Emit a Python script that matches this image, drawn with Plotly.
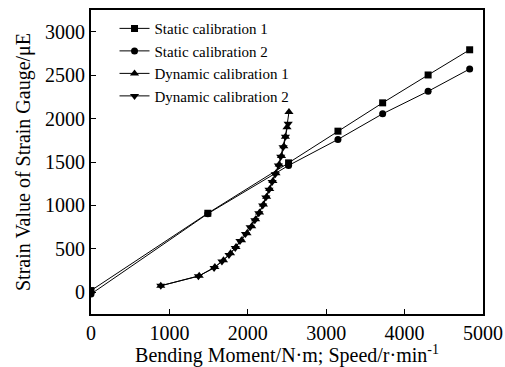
import plotly.graph_objects as go

# Static calibration (bending moment, N·m)
static_x = [0, 1490, 2520, 3150, 3720, 4300, 4830]
static1_y = [20, 910, 1490, 1855, 2181, 2502, 2792]
static2_y = [-20, 905, 1460, 1760, 2055, 2314, 2571]

# Dynamic calibration (speed, r/min)
dyn1_x = [890, 1380, 1580, 1690, 1780, 1850, 1920, 1990, 2050, 2100, 2150,
          2200, 2240, 2280, 2320, 2360, 2400, 2430, 2460, 2480, 2500, 2525]
dyn1_y = [75, 190, 290, 370, 450, 520, 600, 680, 760, 840, 920,
          1010, 1100, 1190, 1280, 1370, 1470, 1570, 1680, 1790, 1900, 2075]
dyn2_x = [890, 1370, 1570, 1670, 1760, 1840, 1900, 1970, 2030, 2090, 2140,
          2190, 2230, 2270, 2310, 2350, 2390, 2420, 2450, 2480, 2515]
dyn2_y = [75, 185, 280, 355, 430, 510, 590, 670, 750, 830, 910,
          1000, 1090, 1180, 1270, 1360, 1460, 1560, 1670, 1790, 1940]

names = ["Static calibration 1", "Static calibration 2",
         "Dynamic calibration 1", "Dynamic calibration 2"]
x_ticks = [0, 1000, 2000, 3000, 4000, 5000]
y_ticks = [0, 500, 1000, 1500, 2000, 2500, 3000]

FONT = "Liberation Serif"

fig = go.Figure()
series = [
    (static_x, static1_y, "square", 7),
    (static_x, static2_y, "circle", 7),
    (dyn1_x, dyn1_y, "triangle-up", 8),
    (dyn2_x, dyn2_y, "triangle-down", 8),
]
for (xs, ys, sym, sz), nm in zip(series, names):
    fig.add_trace(go.Scatter(
        x=xs, y=ys, name=nm, mode="lines+markers",
        line=dict(color="black", width=1),
        marker=dict(symbol=sym, size=sz, color="black"),
    ))

axis_common = dict(
    showline=True, linecolor="black", linewidth=2, mirror=True,
    ticks="inside", ticklen=5, tickwidth=1, tickcolor="black",
    showgrid=False, zeroline=False, automargin=False,
    tickfont=dict(family=FONT, size=20, color="black"),
)

fig.update_layout(
    width=505, height=367,
    margin=dict(l=91, r=22, t=10, b=53),
    paper_bgcolor="white", plot_bgcolor="white",
    font=dict(family=FONT, color="black"),
    xaxis=dict(range=[0, 5000], tickvals=x_ticks, ticklabelstandoff=0,
               title=dict(text="Bending Moment/N·m; Speed/r·min<sup>-1</sup>",
                          font=dict(family=FONT, size=20), standoff=2),
               **axis_common),
    yaxis=dict(range=[-250, 3250], tickvals=y_ticks,
               title=dict(text="Strain Value of Strain Gauge/μE",
                          font=dict(family=FONT, size=20), standoff=9),
               **axis_common),
    legend=dict(x=0.06, y=0.993, xanchor="left", yanchor="top",
                bgcolor="rgba(0,0,0,0)", itemwidth=30,
                font=dict(family=FONT, size=15, color="black"),
                tracegroupgap=0),
    showlegend=True,
)

fig.write_html(
    "out.html",
    config={"displayModeBar": False},
    post_script="document.body.style.margin='0';document.body.style.overflow='hidden';",
)
